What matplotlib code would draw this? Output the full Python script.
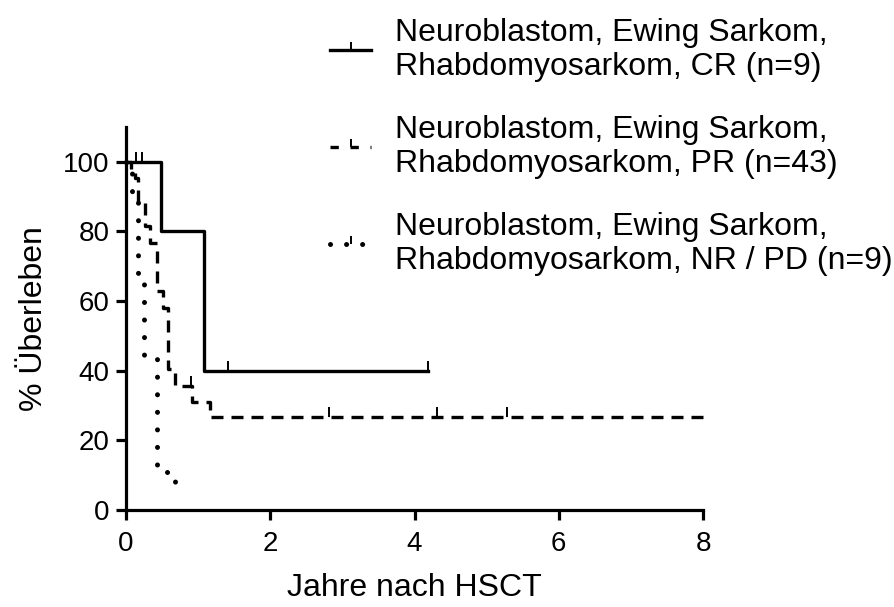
import matplotlib
matplotlib.use("Agg")
import matplotlib.pyplot as plt
from matplotlib.path import Path
from matplotlib.lines import Line2D

plt.rcParams['font.family'] = ['Liberation Sans', 'DejaVu Sans']
plt.rcParams['font.size'] = 20

# Kaplan-Meier steps (time in years, survival in %)
cr_t = [0, 0.49, 1.08, 4.18]
cr_s = [100, 80, 40, 40]
cr_cens_t = [0.14, 0.22, 1.42, 4.18]
cr_cens_s = [100, 100, 40, 40]

pr_t = [0, 0.07, 0.12, 0.17, 0.26, 0.33, 0.43, 0.51, 0.58, 0.68, 0.92, 1.17, 8.0]
pr_s = [100, 97.7, 95.3, 88.4, 81.4, 76.7, 62.8, 58.1, 40.5, 35.7, 31.0, 26.6, 26.6]
pr_cens_t = [0.90, 2.82, 4.31, 5.28]
pr_cens_s = [35.7, 26.6, 26.6, 26.6]

nr_t = [0, 0.08, 0.17, 0.25, 0.43, 0.68]
nr_s = [100, 89, 67, 44, 11, 3]

labels = ["Neuroblastom, Ewing Sarkom,\nRhabdomyosarkom, CR (n=9)",
          "Neuroblastom, Ewing Sarkom,\nRhabdomyosarkom, PR (n=43)",
          "Neuroblastom, Ewing Sarkom,\nRhabdomyosarkom, NR / PD (n=9)"]

# upward censor tick
tick = Path([(0, 0), (0, 1)])

dashed = (0, (3.6, 2.4))
dotted = (0, (0.01, 3.5))

fig = plt.figure(figsize=(8.94, 6.07), dpi=100)
ax = fig.add_axes([0.141, 0.160, 0.6454, 0.631])

ax.step(cr_t, cr_s, where='post', color='k', lw=2.4, clip_on=False)
ax.plot(cr_cens_t, cr_cens_s, ls='none', marker=tick, ms=14, mew=1.4, color='k')

ax.step(pr_t, pr_s, where='post', color='k', lw=2.4, ls=dashed, clip_on=False)
ax.plot(pr_cens_t, pr_cens_s, ls='none', marker=tick, ms=14, mew=1.4, color='k')

ax.step(nr_t, nr_s, where='post', color='k', lw=3.6, ls=dotted,
        dash_capstyle='round', clip_on=False)

ax.set_xlim(0, 8)
ax.set_ylim(0, 110)
ax.set_xticks([0, 2, 4, 6, 8])
ax.set_yticks([0, 20, 40, 60, 80, 100])
for s in ['top', 'right']:
    ax.spines[s].set_visible(False)
for s in ['left', 'bottom']:
    ax.spines[s].set_linewidth(2.3)
ax.tick_params(width=2.3, length=7, labelsize=20)
ax.tick_params(axis='x', pad=8)
ax.tick_params(axis='y', pad=5)
ax.set_xlabel("Jahre nach HSCT", fontsize=23, labelpad=12)
ax.set_ylabel("% Überleben", fontsize=23, labelpad=10)

handles = [
    Line2D([], [], color='k', lw=2.4, marker=tick, ms=12, mew=1.4),
    Line2D([], [], color='k', lw=2.4, ls=(0, (2.5, 3.5)), marker=tick, ms=12, mew=1.4),
    Line2D([], [], color='k', lw=3.6, ls=(0, (0.01, 3.2)), dash_capstyle='round',
           marker=tick, ms=12, mew=1.4),
]
leg = fig.legend(handles, labels, loc='upper left', bbox_to_anchor=(0.369, 0.97),
                 frameon=False, numpoints=1, handlelength=1.3, handletextpad=0.75,
                 labelspacing=1.05, borderpad=0, borderaxespad=0, fontsize=23)
for t in leg.get_texts():
    t.set_linespacing(1.15)

fig.savefig("out.png", dpi=100)
